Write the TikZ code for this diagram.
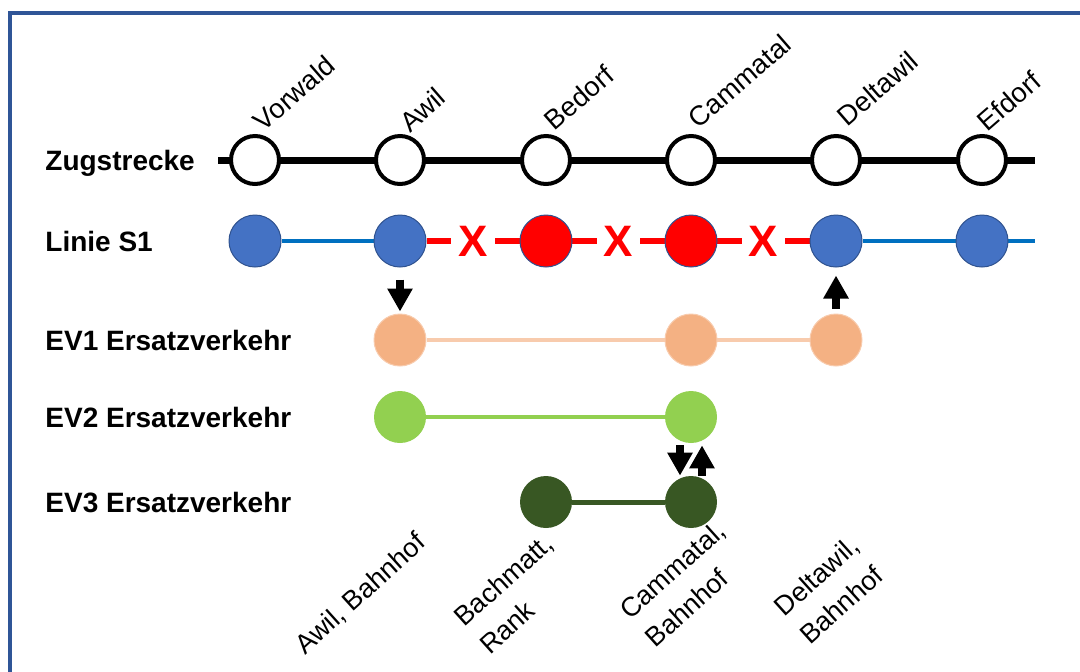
\documentclass[tikz,border=0pt]{standalone}
\usepackage{fontspec}
\setmainfont{Liberation Sans}
\usepackage{tikz}
\usetikzlibrary{arrows.meta, calc, backgrounds}
\definecolor{framebl}{RGB}{47,85,151}
\definecolor{s1fill}{RGB}{68,114,196}
\definecolor{s1edge}{RGB}{47,82,143}
\definecolor{s1line}{RGB}{0,112,192}
\definecolor{stoprot}{RGB}{255,0,0}
\definecolor{ev1fill}{RGB}{244,177,131}
\definecolor{ev1line}{RGB}{248,203,173}
\definecolor{ev2green}{RGB}{146,208,80}
\definecolor{ev3green}{RGB}{56,87,35}

\begin{document}
\begin{tikzpicture}[x=0.5pt, y=-0.5pt,
  rowlabel/.style={anchor=base west, inner sep=0pt, font=\fontsize{14}{17}\selectfont\bfseries},
  stationlabel/.style={anchor=south west, rotate=41, inner sep=0pt, font=\fontsize{13.7}{17}\selectfont},
  stoplabel/.style={rotate=42, align=left, inner sep=0pt, font=\fontsize{13.5}{19}\selectfont},
  halt/.style={circle, minimum size=26pt, inner sep=0pt},
  zughalt/.style={halt, minimum size=24pt, draw=black, line width=2pt, fill=white},
  s1halt/.style={halt, draw=s1edge, line width=0.5pt, fill=s1fill},
  rothalt/.style={halt, draw=s1edge, line width=0.5pt, fill=stoprot},
  ev1halt/.style={halt, draw=ev1line, line width=0.5pt, fill=ev1fill},
  ev2halt/.style={halt, fill=ev2green},
  ev3halt/.style={halt, fill=ev3green},
  kreuz/.style={fill=white, text=stoprot, inner xsep=3.5pt, inner ysep=1pt,
                font=\fontsize{22}{22}\selectfont\bfseries},
  blockpfeil/.style={line width=4pt, -{Triangle[length=11.5pt, width=12pt]}}]
  \useasboundingbox (0,0) rectangle (1080,671);
  \draw[framebl, line width=2pt] (10,680) -- (10,13) -- (1090,13);

  % Zeilen
  \node[rowlabel] (lZug) at (45,170) {Zugstrecke};
  \node[rowlabel] (lS1) at (45,251) {Linie S1};
  \node[rowlabel] (lEV1) at (45,350) {EV1 Ersatzverkehr};
  \node[rowlabel] (lEV2) at (45,427) {EV2 Ersatzverkehr};
  \node[rowlabel] (lEV3) at (45,512) {EV3 Ersatzverkehr};

  % Zugstrecke
  \coordinate (zAnfang) at (218,160);
  \coordinate (zEnde) at (1035,160);
  \node[zughalt] (zVorwald) at (255,160) {};
  \node[zughalt] (zAwil) at (400,160) {};
  \node[zughalt] (zBedorf) at (546,160) {};
  \node[zughalt] (zCammatal) at (691,160) {};
  \node[zughalt] (zDeltawil) at (836,160) {};
  \node[zughalt] (zEfdorf) at (982,160) {};
  \node[stationlabel] (nVorwald) at ($(zVorwald)+(9,-27)$) {Vorwald};
  \node[stationlabel] (nAwil) at ($(zAwil)+(10,-26)$) {Awil};
  \node[stationlabel] (nBedorf) at ($(zBedorf)+(9,-28)$) {Bedorf};
  \node[stationlabel] (nCammatal) at ($(zCammatal)+(8,-30)$) {Cammatal};
  \node[stationlabel] (nDeltawil) at ($(zDeltawil)+(12,-32)$) {Deltawil};
  \node[stationlabel] (nEfdorf) at ($(zEfdorf)+(6,-27)$) {Efdorf};

  % Linie S1
  \coordinate (sEnde) at (1035,241);
  \node[s1halt] (sVorwald) at (255,241) {};
  \node[s1halt] (sAwil) at (400,241) {};
  \node[rothalt] (sBedorf) at (546,241) {};
  \node[rothalt] (sCammatal) at (691,241) {};
  \node[s1halt] (sDeltawil) at (836,241) {};
  \node[s1halt] (sEfdorf) at (982,241) {};
  \node[kreuz] (x1) at ($(sAwil)!0.5!(sBedorf)$) {X};
  \node[kreuz] (x2) at ($(sBedorf)!0.5!(sCammatal)$) {X};
  \node[kreuz] (x3) at ($(sCammatal)!0.5!(sDeltawil)$) {X};

  % Ersatzverkehr
  \node[ev1halt] (ev1Awil) at (400,340) {};
  \node[ev1halt] (ev1Cammatal) at (691,340) {};
  \node[ev1halt] (ev1Deltawil) at (836,340) {};
  \node[ev2halt] (ev2Awil) at (400,417) {};
  \node[ev2halt] (ev2Cammatal) at (691,417) {};
  \node[ev3halt] (ev3Bachmatt) at (546,502) {};
  \node[ev3halt] (ev3Cammatal) at (691,502) {};

  \node[stoplabel] (bAwil) at (361,594) {Awil, Bahnhof};
  \node[stoplabel] (bBachmatt) at (516,594) {Bachmatt,\\Rank};
  \node[stoplabel] (bCammatal) at (685,584) {Cammatal,\\Bahnhof};
  \node[stoplabel] (bDeltawil) at (829,590) {Deltawil,\\Bahnhof};

  \begin{scope}[on background layer]
    \draw[line width=3.5pt] (zAnfang) -- (zEnde);
    \draw[s1line, line width=2pt] (sVorwald) -- (sAwil);
    \draw[s1line, line width=2pt] (sDeltawil) -- (sEnde);
    \draw[stoprot, line width=3pt] (sAwil) -- (sDeltawil);
    \draw[ev1line, line width=2.2pt] (ev1Awil) -- (ev1Deltawil);
    \draw[ev2green, line width=2pt] (ev2Awil) -- (ev2Cammatal);
    \draw[ev3green, line width=2.5pt] (ev3Bachmatt) -- (ev3Cammatal);
  \end{scope}

  % Umstiege
  \draw[blockpfeil, shorten <=6pt, shorten >=1pt] (sAwil.south) -- (ev1Awil.north);
  \draw[blockpfeil, shorten <=2.5pt, shorten >=4pt] (ev1Deltawil.north) -- (sDeltawil.south);
  \draw[blockpfeil, shorten <=1pt] ([xshift=-5.5pt]ev2Cammatal.south) -- ([xshift=-5.5pt]ev3Cammatal.north);
  \draw[blockpfeil, shorten >=1pt] ([xshift=5.5pt]ev3Cammatal.north) -- ([xshift=5.5pt]ev2Cammatal.south);
\end{tikzpicture}
\end{document}
